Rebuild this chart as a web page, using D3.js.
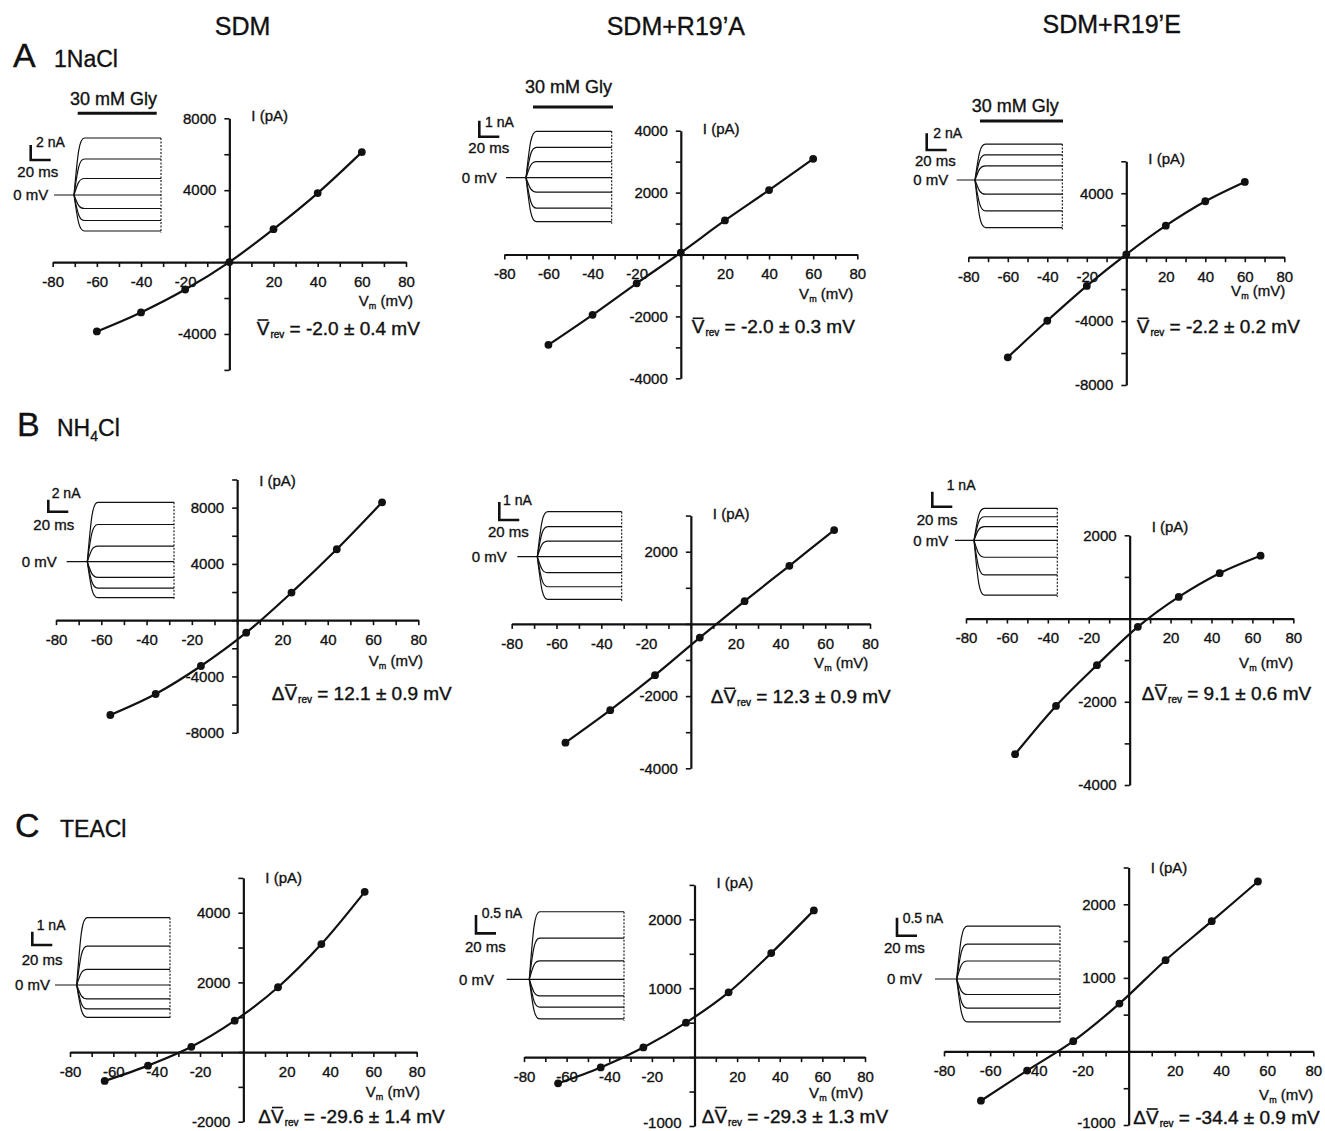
<!DOCTYPE html>
<html>
<head>
<meta charset="utf-8">
<script src="https://cdn.jsdelivr.net/npm/d3@7"></script>
<style>
  body { margin: 0; background: #fff; }
  svg { display: block; font-family: "Liberation Sans", Arial, sans-serif; }
  text { fill: #111; stroke: #111; stroke-width: 0.35px; }
</style>
</head>
<body>
<div id="chart"></div>
<script>
// membrane potentials of the I-V points (mV)
const vmA = [-60, -40, -20, 0, 20, 40, 60]
const vmB = [-56, -36, -16, 4, 24, 44, 64]
const vmC = [-64, -44, -24, -4, 16, 36, 56]

// peak currents (pA)
const iA_sdm  = [-3860, -2800, -1530, 0, 1830, 3840, 6120]
const iA_r19a = [-2920, -1950, -930, 60, 1100, 2080, 3090]
const iA_r19e = [-6270, -3980, -1800, 180, 1970, 3500, 4710]
const iB_sdm  = [-6740, -5250, -3260, -890, 1960, 5040, 8380]
const iB_r19a = [-3290, -2390, -1420, -380, 630, 1610, 2600]
const iB_r19e = [-3260, -2100, -1120, -200, 520, 1090, 1510]
const iC_sdm  = [-830, -390, 150, 900, 1860, 3100, 4600]
const iC_r19a = [-380, -150, 140, 500, 940, 1510, 2130]
const iC_r19e = [-670, -260, 140, 650, 1240, 1770, 2310]

// steady current of the example traces (nA)
const trA_sdm  = [7.6, 4.8, 2.2, 0, -1.8, -3.4, -4.8]
const trA_r19a = [2.9, 1.9, 1.0, 0, -0.9, -1.9, -2.75]
const trA_r19e = [4.3, 3.0, 1.7, 0, -1.7, -3.7, -5.7]
const trB_sdm  = [9.9, 6.2, 2.6, 0, -2.6, -4.4, -6.0]
const trB_r19a = [2.5, 1.67, 0.87, 0, -0.89, -1.67, -2.37]
const trB_r19e = [2.13, 1.57, 0.91, 0, -1.13, -2.31, -3.65]
const trC_sdm  = [5.06, 2.93, 1.18, 0, -1.05, -1.8, -2.43]
const trC_r19a = [1.84, 1.12, 0.5, 0, -0.45, -0.76, -1.08]
const trC_r19e = [1.47, 0.97, 0.5, 0, -0.43, -0.81, -1.19]

const scaleNA = [2, 1, 2, 2, 1, 1, 1, 0.5, 0.5]

const headers = ["SDM", "SDM+R19\u2019A", "SDM+R19\u2019E"]
const rowLetters = ["A", "B", "C"]
const revPrefix = ["", "\u0394", "\u0394"]
const revValues = [
  "-2.0 \u00b1 0.4", "-2.0 \u00b1 0.3", "-2.2 \u00b1 0.2",
  "12.1 \u00b1 0.9", "12.3 \u00b1 0.9", "9.1 \u00b1 0.6",
  "-29.6 \u00b1 1.4", "-29.3 \u00b1 1.3", "-34.4 \u00b1 0.9"
]

// layout of the nine panels
const panels = [
  { vm: vmA, i: iA_sdm,  tr: trA_sdm,  xr: [52.7, 406],    yd: [-6000, 8000],  yr: [369.9, 118.3], minor: 2000, ylab: [8000, 4000, -4000],
    vmOff: [7, 44], iOff: 3, ann: [256.7, 335],
    ins: { x0: 54, xJ: 74, xEnd: 161, y0: 195, px: 7.5, bar: [30.7, 145], nA: [36, 147], ms: [17.3, 176.7], mV: [48.3, 200] },
    gly: { t: [70, 105], b: [77.7, 156.7, 113.3] } },
  { vm: vmA, i: iA_r19a, tr: trA_r19a, xr: [504.3, 857.3], yd: [-4000, 4000],  yr: [378.3, 130.7], minor: 1000, ylab: [4000, 2000, -2000, -4000],
    vmOff: [-4, 44], iOff: 3, ann: [691.7, 333.3],
    ins: { x0: 506, xJ: 526, xEnd: 611.7, y0: 177.7, px: 16, bar: [479.3, 120.7], nA: [485, 126.7], ms: [468.3, 153.3], mV: [496.7, 183] },
    gly: { t: [525, 93], b: [533, 613, 107] } },
  { vm: vmA, i: iA_r19e, tr: trA_r19e, xr: [968.3, 1284.3], yd: [-8000, 6000], yr: [385, 161.3], minor: 2000, ylab: [4000, -4000, -8000],
    vmOff: [1, 39], iOff: 3, ann: [1136.7, 333.3],
    ins: { x0: 956.7, xJ: 975, xEnd: 1062.3, y0: 180, px: 8.35, bar: [926.7, 133.3], nA: [933.3, 138.3], ms: [915, 165.7], mV: [948.3, 185] },
    gly: { t: [971.7, 111.7], b: [980, 1063, 121] } },
  { vm: vmB, i: iB_sdm,  tr: trB_sdm,  xr: [56, 418.3],    yd: [-8000, 10000], yr: [732.7, 479.5], minor: 2000, ylab: [8000, 4000, -4000, -8000],
    vmOff: [4.7, 45.7], iOff: 6, ann: [271.7, 700],
    ins: { x0: 66.7, xJ: 87.3, xEnd: 174, y0: 561.7, px: 6, bar: [48.3, 499.7], nA: [51.7, 498], ms: [33.3, 530], mV: [56.7, 567] } },
  { vm: vmB, i: iB_r19a, tr: trB_r19a, xr: [511.7, 870],   yd: [-4000, 3000],  yr: [768.3, 515.6], minor: 1000, ylab: [2000, -2000, -4000],
    vmOff: [-1.7, 44], iOff: 3, ann: [710.7, 703.3],
    ins: { x0: 517.3, xJ: 537.3, xEnd: 621.7, y0: 556.7, px: 18, bar: [499.3, 502], nA: [503, 505], ms: [488, 537], mV: [506.7, 562] } },
  { vm: vmB, i: iB_r19e, tr: trB_r19e, xr: [966, 1293.3],  yd: [-4000, 2000],  yr: [785, 535.3], minor: 1000, ylab: [2000, -2000, -4000],
    vmOff: [0, 49], iOff: -3, ann: [1141.7, 700],
    ins: { x0: 955, xJ: 974, xEnd: 1057.3, y0: 540.3, px: 15, bar: [932.3, 491.7], nA: [946.7, 490], ms: [916.7, 525], mV: [948.3, 546] } },
  { vm: vmC, i: iC_sdm,  tr: trC_sdm,  xr: [70, 416.7],    yd: [-2000, 5000],  yr: [1121.7, 877.9], minor: 1000, ylab: [4000, 2000, -2000],
    vmOff: [3.3, 45], iOff: 5, ann: [258.3, 1122.5],
    ins: { x0: 55, xJ: 76.7, xEnd: 170, y0: 985, px: 13.3, bar: [32.3, 931.7], nA: [36.7, 930], ms: [21.7, 965], mV: [50, 990] } },
  { vm: vmC, i: iC_r19a, tr: trC_r19a, xr: [524, 865],     yd: [-1000, 2500],  yr: [1126, 884.9], minor: 500, ylab: [2000, 1000, -1000],
    vmOff: [-1.7, 41], iOff: 3, ann: [701.7, 1122.5],
    ins: { x0: 506.7, xJ: 529.3, xEnd: 624, y0: 979.3, px: 36.7, bar: [476, 915], nA: [481.7, 918], ms: [465, 951.7], mV: [494, 985] } },
  { vm: vmC, i: iC_r19e, tr: trC_r19e, xr: [944, 1313.3],  yd: [-1000, 2500],  yr: [1125, 867.5], minor: 500, ylab: [2000, 1000, -1000],
    vmOff: [0, 49], iOff: 5, ann: [1133.3, 1124],
    ins: { x0: 935, xJ: 956.7, xEnd: 1060, y0: 979, px: 36, bar: [897, 917.7], nA: [902.7, 923], ms: [884, 953], mV: [922, 984] } }
]

const W = 1325, H = 1131
const svg = d3.select("#chart").append("svg")
  .attr("width", W).attr("height", H)

const ink = "#111"

// column headers
const headerX = [242.5, 675.8, 1111.7]
svg.selectAll("text.header").data(headers).enter().append("text")
  .attr("class", "header")
  .attr("x", (d, i) => headerX[i]).attr("y", (d, i) => i === 2 ? 33 : 35)
  .attr("text-anchor", "middle").attr("font-size", 25)
  .text(d => d)

// row labels
const rowPos = [[13, 67, 54], [17, 436, 57], [15, 837, 60]]
rowLetters.forEach((l, r) => {
  svg.append("text").attr("x", rowPos[r][0]).attr("y", rowPos[r][1])
    .attr("font-size", 34).text(l)
  let t = svg.append("text").attr("x", rowPos[r][2]).attr("y", rowPos[r][1])
    .attr("font-size", 23)
  if (r === 0) t.text("1NaCl")
  if (r === 1) {
    t.append("tspan").text("NH")
    t.append("tspan").attr("font-size", 14).attr("dy", 5).text("4")
    t.append("tspan").attr("dy", -5).text("Cl")
  }
  if (r === 2) t.text("TEACl")
})

panels.forEach((p, k) => {
  const g = svg.append("g")
  const x = d3.scaleLinear().domain([-80, 80]).range(p.xr)
  const y = d3.scaleLinear().domain(p.yd).range(p.yr)
  const ax = x(0), ay = y(0)

  // x axis through I = 0
  const gx = g.append("g").attr("transform", `translate(0,${ay})`)
    .call(d3.axisBottom(x).tickValues(d3.range(-80, 81, 10))
      .tickSize(5).tickSizeOuter(0).tickPadding(9)
      .tickFormat(d => (d % 20 === 0 && d !== 0) ? d : ""))
  // y axis through V = 0
  const yt = d3.range(Math.ceil(p.yd[0] / p.minor) * p.minor, p.yd[1] + 1, p.minor)
  const gy = g.append("g").attr("transform", `translate(${ax},0)`)
    .call(d3.axisLeft(y).tickValues(yt)
      .tickSize(5).tickSizeOuter(0).tickPadding(8)
      .tickFormat(d => p.ylab.includes(d) ? d : ""))
  ;[gx, gy].forEach(a => {
    a.attr("font-family", null).attr("font-size", 15)
    a.select(".domain").attr("stroke", ink).attr("stroke-width", 2.2)
    a.selectAll(".tick line").attr("stroke", ink).attr("stroke-width", 1.6)
    a.selectAll(".tick text").attr("fill", ink)
      .attr("stroke", ink).attr("stroke-width", 0.45)
  })
  gx.selectAll(".tick text").attr("dy", "0.71em")
  // keep the lowest label inside the page
  gy.selectAll(".tick text").filter(d => y(d) > H - 9).attr("y", d => H - 8 - y(d))

  // axis titles
  g.append("text").attr("x", ax + 22).attr("y", p.yr[1] + p.iOff)
    .attr("font-size", 15).text("I (pA)")
  const vl = g.append("text").attr("x", x(80) + p.vmOff[0]).attr("y", ay + p.vmOff[1])
    .attr("font-size", 15).attr("text-anchor", "end")
  vl.append("tspan").text("V")
  vl.append("tspan").attr("font-size", 9).attr("dy", 3).text("m")
  vl.append("tspan").attr("dy", -3).text(" (mV)")

  // I-V curve and points
  const pts = p.vm.map((v, j) => [v, p.i[j]])
  g.append("path").datum(pts)
    .attr("fill", "none").attr("stroke", ink).attr("stroke-width", 2.2)
    .attr("d", d3.line().x(d => x(d[0])).y(d => y(d[1]))
      .curve(d3.curveCatmullRom.alpha(0.5)))
  g.selectAll("circle").data(pts).enter().append("circle")
    .attr("cx", d => x(d[0])).attr("cy", d => y(d[1])).attr("r", 3.9)
    .attr("fill", ink)

  // reversal potential annotation
  const row = Math.floor(k / 3)
  const at = g.append("text").attr("x", p.ann[0]).attr("y", p.ann[1])
    .attr("font-size", 19).style("stroke-width", "0.4px")
  at.append("tspan").text(revPrefix[row] + "V")
  at.append("tspan").attr("font-size", 10).attr("dy", 3).attr("dx", 1).text("rev")
  at.append("tspan").attr("dy", -3).text(" = " + revValues[k] + " mV")
  const vBox = at.node().getExtentOfChar(revPrefix[row].length)
  g.append("line")
    .attr("x1", vBox.x + 1).attr("x2", vBox.x + vBox.width - 1)
    .attr("y1", p.ann[1] - 15).attr("y2", p.ann[1] - 15)
    .attr("stroke", ink).attr("stroke-width", 1.6)

  // example current traces
  const s = p.ins
  const ty = d3.scaleLinear().domain([0, 1]).range([s.y0, s.y0 - s.px])
  const ig = g.append("g").attr("fill", "none").attr("stroke", ink).attr("stroke-width", 1.2)
  ig.append("path").attr("d", `M${s.x0},${s.y0}L${s.xEnd},${s.y0}`)
  const dx = 7
  ig.selectAll("path.tr").data(p.tr.filter(v => v !== 0)).enter().append("path")
    .attr("class", "tr")
    .attr("d", v => {
      const yl = ty(v)
      const path = d3.path()
      path.moveTo(s.xJ, s.y0)
      path.bezierCurveTo(s.xJ + dx * 0.55, s.y0 + (yl - s.y0) * 0.75,
        s.xJ + dx * 0.75, yl, s.xJ + dx * 1.5, yl)
      path.lineTo(s.xEnd, yl)
      return path.toString()
    })
  ig.append("line")
    .attr("x1", s.xEnd).attr("x2", s.xEnd)
    .attr("y1", ty(d3.max(p.tr))).attr("y2", ty(d3.min(p.tr)) + 2)
    .attr("stroke-dasharray", "2,1.5").attr("stroke-width", 1.1)
  // scale bar
  const bl = scaleNA[k] * s.px
  ig.append("path")
    .attr("d", `M${s.bar[0]},${s.bar[1]}V${s.bar[1] + bl}H${s.bar[0] + 20}`)
    .attr("stroke-width", 2.6)
  g.append("text").attr("x", s.nA[0]).attr("y", s.nA[1]).attr("font-size", 14)
    .text(scaleNA[k] + " nA")
  g.append("text").attr("x", s.ms[0]).attr("y", s.ms[1]).attr("font-size", 15)
    .text("20 ms")
  g.append("text").attr("x", s.mV[0]).attr("y", s.mV[1]).attr("font-size", 15)
    .attr("text-anchor", "end").text("0 mV")

  // glycine application bar
  if (p.gly) {
    g.append("text").attr("x", p.gly.t[0]).attr("y", p.gly.t[1])
      .attr("font-size", 18).text("30 mM Gly")
    g.append("line").attr("x1", p.gly.b[0]).attr("x2", p.gly.b[1])
      .attr("y1", p.gly.b[2]).attr("y2", p.gly.b[2])
      .attr("stroke", ink).attr("stroke-width", 3)
  }
})
</script>
</body>
</html>
